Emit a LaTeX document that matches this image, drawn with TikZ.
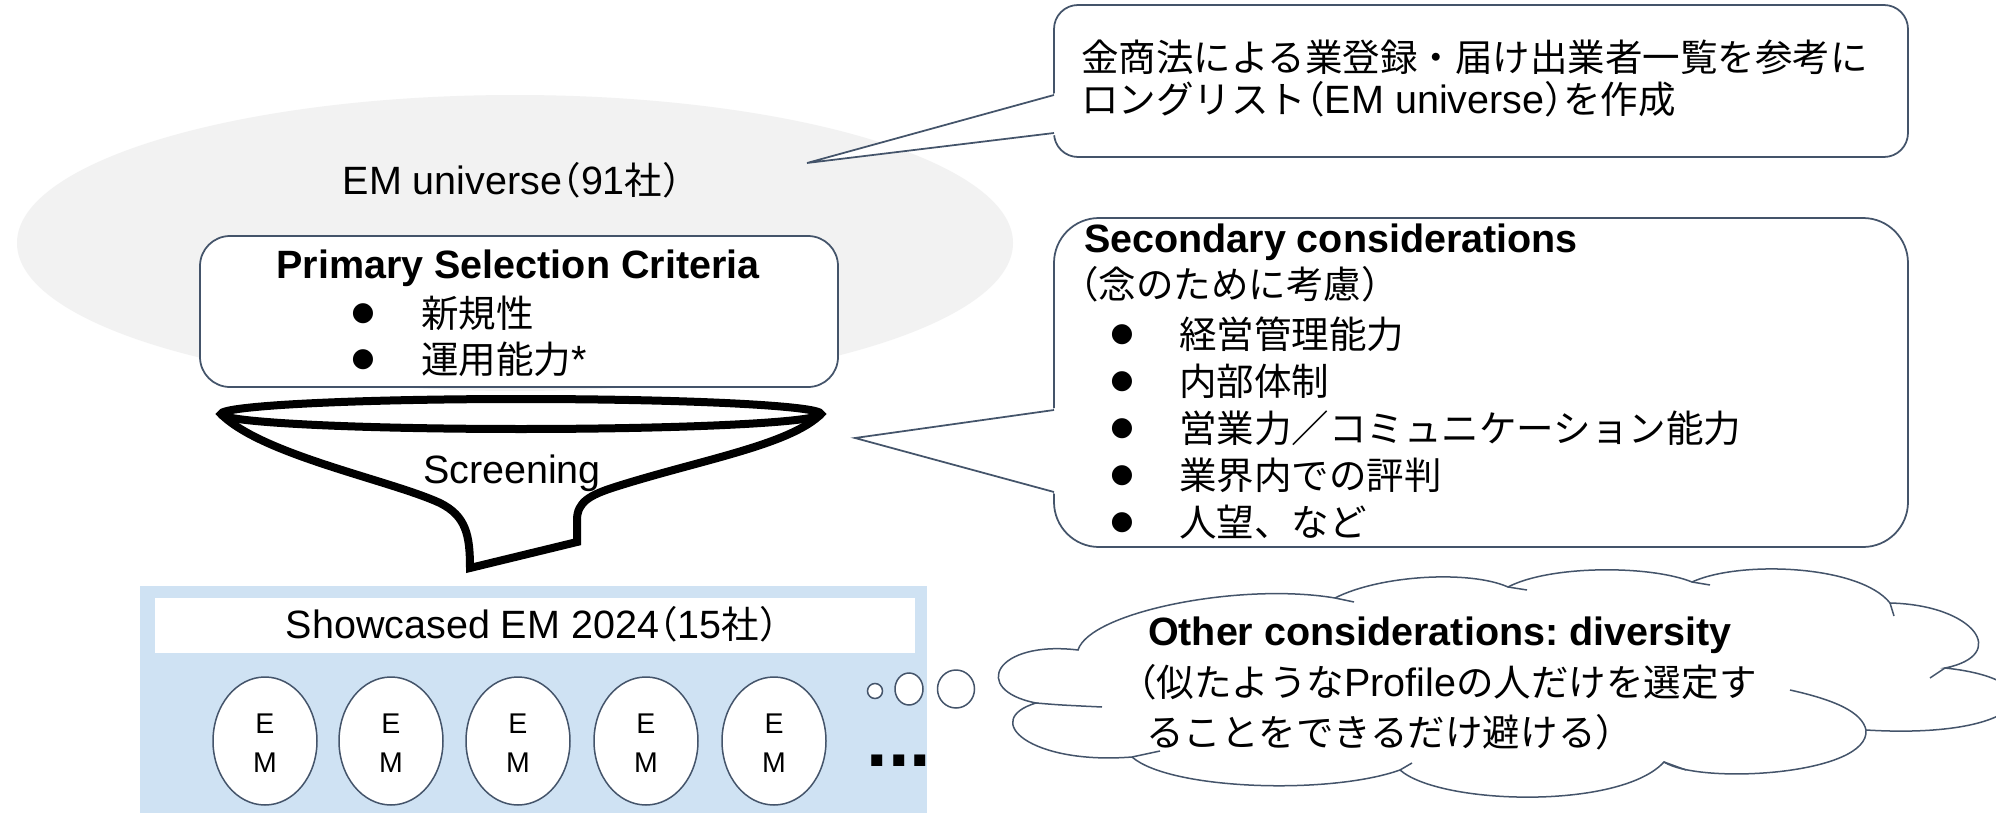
\documentclass[tikz,border=0pt]{standalone}
\usepackage{fontspec}
\setmainfont{Liberation Sans}
\newfontfamily\jp[Scale=0.95]{Noto Sans CJK JP}
\newfontfamily\jph[Scale=0.95,RawFeature=+halt]{Noto Sans CJK JP}
\newfontfamily\symf{DejaVu Sans}
\usetikzlibrary{shapes.geometric}
\definecolor{slate}{HTML}{44546A}
\definecolor{ugray}{HTML}{F2F2F2}
\definecolor{ublue}{HTML}{CFE2F3}
\newcommand\J[1]{{\jp #1}}
\newcommand\JH[1]{{\jph #1}}
\frenchspacing
\begin{document}
\begin{tikzpicture}[x=0.4pt,y=-0.4pt]
\tikzset{
  txt/.style={inner sep=0pt, outer sep=0pt, font=\fontsize{15.8}{19}\selectfont},
  btxt/.style={inner sep=0pt, outer sep=0pt, font=\fontsize{15.8}{19}\selectfont\bfseries},
  bul/.style={inner sep=0pt, outer sep=0pt, font=\symf\fontsize{10.5}{10.5}\selectfont},
  frame/.style={draw=slate, line width=0.7pt, fill=white},
  emnode/.style={ellipse, draw=slate, line width=0.6pt, fill=white, inner sep=0pt,
    minimum width=104*0.4pt, minimum height=128*0.4pt},
  emletter/.style={inner sep=0pt, font=\fontsize{11.4}{12}\selectfont},
  bubble/.style={ellipse, draw=slate, line width=0.6pt, fill=white, inner sep=0pt},
  funnelline/.style={line width=3.2pt, draw=black},
  cloudline/.style={draw=slate, line width=0.6pt},
}
\clip (0,0) rectangle (1996,813);
\fill[white] (0,0) rectangle (1996,813);

% EM universe ellipse
\node[ellipse, fill=ugray, inner sep=0pt, minimum width=996*0.4pt, minimum height=296*0.4pt] (universe) at (515,243) {};
\node[txt, anchor=base] (unitxt) at (512,194) {EM universe\JH{（}91\J{社}\JH{）}};

% Primary selection criteria box
\node[frame, rounded corners=12pt, minimum width=638*0.4pt, minimum height=151*0.4pt] (primary) at (519,311.5) {};
\node[btxt, anchor=base] (ptitle) at (518,278) {Primary Selection Criteria};
\node[bul] (pb1) at (363,314) {●};
\node[txt, anchor=base west] (pt1) at (421,327) {\J{新規性}};
\node[bul] (pb2) at (363,360) {●};
\node[txt, anchor=base west] (pt2) at (421,373) {\J{運用能力}*};

% Funnel
\draw[funnelline, fill=white, line join=miter]
  (221,414) .. controls (262,455) and (390,480) .. (440,503)
  .. controls (466,516) and (470,535) .. (470,568)
  -- (577,542) -- (577,520)
  .. controls (577,502) and (590,495) .. (615,487)
  .. controls (700,460) and (790,445) .. (821,414);
\node[ellipse, funnelline, fill=white, inner sep=0pt, minimum width=600*0.4pt, minimum height=30*0.4pt] (rim) at (521,414) {};
\node[txt, anchor=base] (scr) at (512,483) {Screening};

% Top callout
\node[frame, rounded corners=9.6pt, minimum width=854*0.4pt, minimum height=152*0.4pt] (note1) at (1481,81) {};
\coordinate (tip1) at (807,163);
\fill[white] (1056,93) -- (tip1) -- (1056,135) -- cycle;
\draw[slate, line width=0.7pt, line join=miter] (1054,95) -- (tip1) -- (1054,133);
\node[txt, anchor=base west] (n1a) at (1081,72) {\J{金商法による業登録・届け出業者一覧を参考に}};
\node[txt, anchor=base west] (n1b) at (1081,113) {\J{ロングリスト}\JH{（}EM universe\JH{）}\J{を作成}};

% Secondary callout
\node[frame, rounded corners=18pt, minimum width=854*0.4pt, minimum height=329*0.4pt] (note2) at (1481,382.5) {};
\coordinate (tip2) at (855,438);
\fill[white] (1056,408) -- (tip2) -- (1056,494) -- cycle;
\draw[slate, line width=0.7pt, line join=miter] (1054,410) -- (tip2) -- (1054,492);
\node[btxt, anchor=base west] (s0) at (1084,252) {Secondary considerations};
\node[txt, anchor=base west] (s1) at (1080,298) {\JH{（}\J{念のために考慮}\JH{）}};
\node[bul] (sb1) at (1122,335) {●};
\node[txt, anchor=base west] (s2) at (1179,348) {\J{経営管理能力}};
\node[bul] (sb2) at (1122,382) {●};
\node[txt, anchor=base west] (s3) at (1179,395) {\J{内部体制}};
\node[bul] (sb3) at (1122,429) {●};
\node[txt, anchor=base west] (s4) at (1179,442) {\J{営業力／コミュニケーション能力}};
\node[bul] (sb4) at (1122,476) {●};
\node[txt, anchor=base west] (s5) at (1179,489) {\J{業界内での評判}};
\node[bul] (sb5) at (1122,523) {●};
\node[txt, anchor=base west] (s6) at (1179,536) {\J{人望、など}};

% Showcased EM box
\fill[ublue] (140,586) rectangle (927,813);
\node[fill=white, inner sep=0pt, minimum width=760*0.4pt, minimum height=55*0.4pt] (showbar) at (535,625.5) {};
\node[txt, anchor=base] (showtxt) at (532,638) {Showcased EM 2024\JH{（}15\J{社}\JH{）}};
\foreach \i/\x in {1/265,2/391,3/518,4/646,5/774}{
  \node[emnode] (em\i) at (\x,741) {};
  \node[emletter, anchor=base] (emE\i) at (\x,733) {E};
  \node[emletter, anchor=base] (emM\i) at (\x,772) {M};
}
\node[inner sep=0pt, anchor=base west, font=\fontsize{31}{31}\selectfont\bfseries] (dots) at (866,766) {...};

% Cloud (thought callout)
\coordinate (J1) at (1078,650);
\coordinate (J2) at (1335,598);
\coordinate (J3) at (1508,587);
\coordinate (J4) at (1692,582);
\coordinate (J5) at (1890,603);
\coordinate (J6) at (1945,668);
\coordinate (J7) at (1866,730);
\coordinate (J8) at (1664,762);
\coordinate (J9) at (1400,770);
\coordinate (J10) at (1132,757);
\coordinate (J11) at (1036,703);
\draw[cloudline, fill=white]
  (J1) .. controls (1090,612) and (1240,582) .. (J2)
  .. controls (1380,575) and (1470,570) .. (J3)
  .. controls (1550,565) and (1650,565) .. (J4)
  .. controls (1740,560) and (1860,565) .. (J5)
  .. controls (1975,605) and (2010,655) .. (J6)
  .. controls (2060,680) and (2030,740) .. (J7)
  .. controls (1870,775) and (1700,785) .. (J8)
  .. controls (1620,810) and (1440,805) .. (J9)
  .. controls (1330,795) and (1170,790) .. (J10)
  .. controls (1030,765) and (980,720) .. (J11)
  .. controls (970,690) and (995,640) .. (J1) -- cycle;
% inner ends of the puffs
\draw[cloudline] (1790,690) .. controls (1835,700) and (1862,712) .. (J7);
\draw[cloudline] (J11) .. controls (1060,705) .. (1102,707);
\draw[cloudline] (J10) -- (1160,751);
\draw[cloudline] (J2) -- (1354,602);
\draw[cloudline] (J3) -- (1527,590);
\draw[cloudline] (J4) -- (1710,585);
\draw[cloudline] (J5) -- (1894,616);
\draw[cloudline] (J6) -- (1930,678);
\draw[cloudline] (J8) -- (1686,770);
\draw[cloudline] (J9) -- (1412,763);
\node[bubble, minimum width=15*0.4pt, minimum height=15*0.4pt] (bub1) at (875,691) {};
\node[bubble, minimum width=28*0.4pt, minimum height=32*0.4pt] (bub2) at (909,689) {};
\node[bubble, minimum width=37*0.4pt, minimum height=38*0.4pt] (bub3) at (956,689) {};
\node[btxt, anchor=base west] (c1) at (1148,645) {Other considerations: diversity};
\node[txt, anchor=base west] (c2) at (1138,696) {\JH{（}\J{似たような}Profile\J{の人だけを選定す}};
\node[txt, anchor=base west] (c3) at (1146,746) {\J{ることをできるだけ避ける}\JH{）}};
\end{tikzpicture}
\end{document}
